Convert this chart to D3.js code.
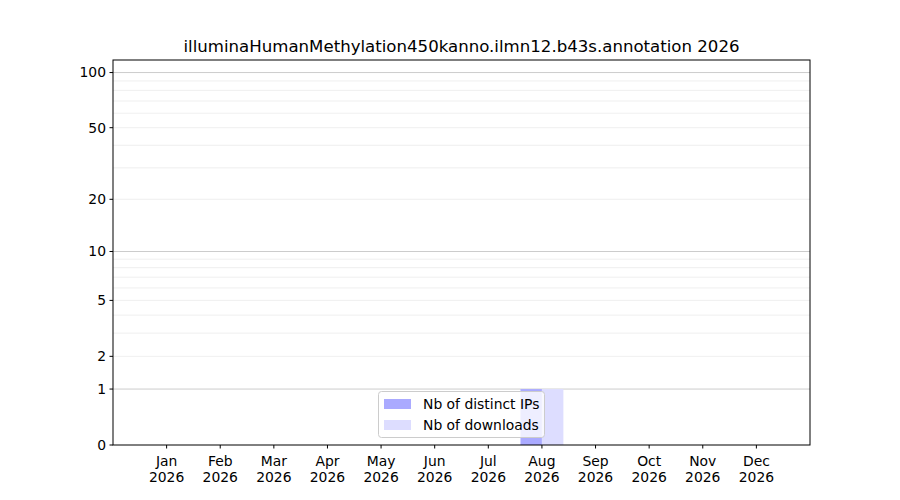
<!DOCTYPE html>
<html><head><meta charset="utf-8">
<script src="https://cdn.jsdelivr.net/npm/d3@7"></script>
<style>body{margin:0;background:#fff}svg{font-family:"DejaVu Sans",sans-serif}</style>
</head><body><svg id="c" width="900" height="500"></svg>
<script>
const title = "illuminaHumanMethylation450kanno.ilmn12.b43s.annotation 2026";
const months = ["Jan","Feb","Mar","Apr","May","Jun","Jul","Aug","Sep","Oct","Nov","Dec"];
const year = "2026";
const distinctIPs = [0,0,0,0,0,0,0,1,0,0,0,0];
const downloads   = [0,0,0,0,0,0,0,1,0,0,0,0];
const yTicks = [0,1,2,5,10,20,50,100];
const majorGrid = [1,10,100];
const minorGrid = [2,3,4,5,6,7,8,9,20,30,40,50,60,70,80,90];
const legendLabels = ["Nb of distinct IPs","Nb of downloads"];
const colors = ["#aaaaff","#ddddff"];

const svg = d3.select("#c");
const L=113,R=810,T=60,B=445;
const FS = 13.9;
const x = d3.scaleLinear().domain([-1,12]).range([L,R]);
const f = v => Math.log10(1+v);
const yl = d3.scaleLinear().domain([0, f(117)]).range([B,T]);
const y = v => yl(f(v));

const g = svg.append("g");
g.selectAll(".mn").data(minorGrid).join("line").attr("x1",L).attr("x2",R)
 .attr("y1",d=>y(d)).attr("y2",d=>y(d)).attr("stroke","#ebebeb").attr("stroke-width",0.8);
g.selectAll(".mj").data(majorGrid).join("line").attr("x1",L).attr("x2",R)
 .attr("y1",d=>y(d)).attr("y2",d=>y(d)).attr("stroke","#cccccc").attr("stroke-width",1);

const bw = 0.4;
g.selectAll(".b1").data(distinctIPs).join("rect")
 .attr("x",(d,i)=>x(i-bw)).attr("width",x(bw)-x(0))
 .attr("y",d=>y(d)).attr("height",d=>B-y(d)).attr("fill",colors[0]);
g.selectAll(".b2").data(downloads).join("rect")
 .attr("x",(d,i)=>x(i)).attr("width",x(bw)-x(0))
 .attr("y",d=>y(d)).attr("height",d=>B-y(d)).attr("fill",colors[1]);

svg.append("rect").attr("x",L).attr("y",T).attr("width",R-L).attr("height",B-T)
 .attr("fill","none").attr("stroke","#000").attr("stroke-width",1);

const yt = svg.append("g");
yTicks.forEach(v=>{
  yt.append("line").attr("x1",L-3.5).attr("x2",L).attr("y1",y(v)).attr("y2",y(v)).attr("stroke","#000");
  yt.append("text").attr("x",L-7).attr("y",y(v)).attr("dy","0.35em").attr("text-anchor","end")
    .attr("font-size",FS).text(v);
});
const xt = svg.append("g");
months.forEach((m,i)=>{
  xt.append("line").attr("x1",x(i)).attr("x2",x(i)).attr("y1",B).attr("y2",B+3.5).attr("stroke","#000");
  const t = xt.append("text").attr("x",x(i)).attr("text-anchor","middle").attr("font-size",FS);
  t.append("tspan").attr("x",x(i)).attr("y",466).text(m);
  t.append("tspan").attr("x",x(i)).attr("y",482).text(year);
});

svg.append("text").attr("x",(L+R)/2).attr("y",52).attr("text-anchor","middle")
 .attr("font-size",16.6).text(title);

const lg = svg.append("g");
lg.append("rect").attr("x",378.5).attr("y",391.5).attr("width",166).attr("height",46).attr("rx",3)
 .attr("fill","#fff").attr("fill-opacity",0.8).attr("stroke","#cccccc");
legendLabels.forEach((lab,i)=>{
  const yy = 404 + i*21;
  lg.append("rect").attr("x",384).attr("y",yy-5).attr("width",27).attr("height",10).attr("fill",colors[i]);
  lg.append("text").attr("x",423).attr("y",yy).attr("dy","0.35em").attr("font-size",FS).text(lab);
});
</script></body></html>
